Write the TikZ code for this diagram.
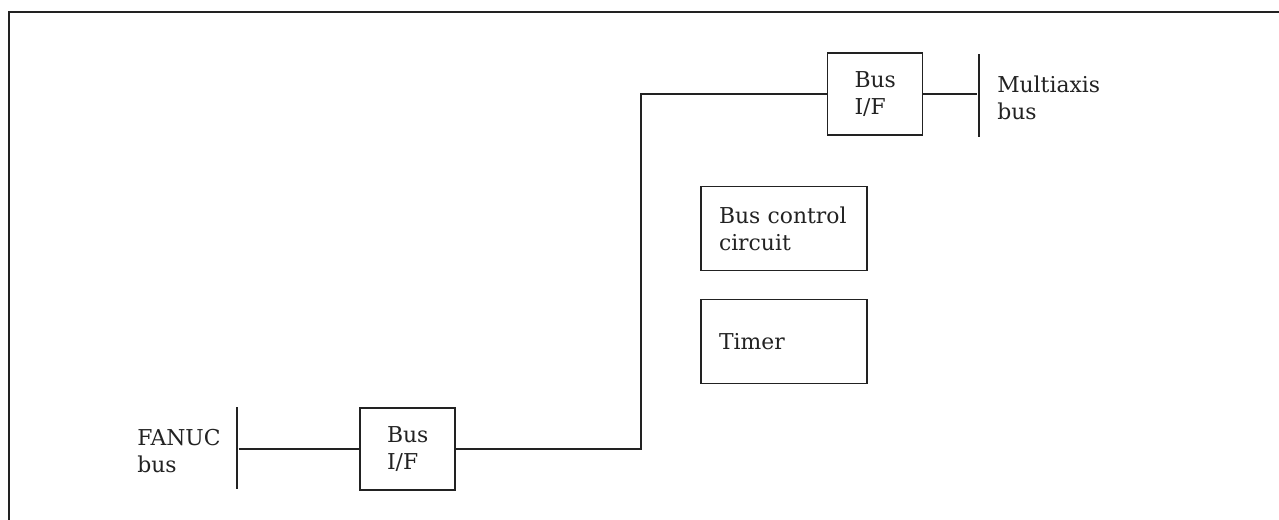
\documentclass[tikz,border=0pt]{standalone}
\usepackage{fontspec}
\setmainfont{DejaVu Serif}
\definecolor{ink}{HTML}{222222}
\tikzset{
  px/.style={x=0.75pt,y=-0.75pt},
  txt/.style={font=\fontsize{16.4}{20.25}\selectfont, text=ink},
  ifbox/.style={draw=ink, line width=0.9pt, txt, align=left, minimum width=71.25pt, minimum height=61.5pt, inner xsep=20.25pt, inner ysep=0pt, text width=30.75pt},
  ctlbox/.style={draw=ink, line width=0.9pt, txt, align=left, minimum height=62.5pt, inner xsep=13.5pt, inner ysep=0pt, text width=97.5pt},
  busbar/.style={fill=ink, draw=none, inner sep=0pt, minimum width=2pt},
  wire/.style={draw=ink, line width=0.9pt},
  lbl/.style={txt, align=left, inner sep=0pt, anchor=base west}
}
\begin{document}
\begin{tikzpicture}[px]
\useasboundingbox (0,0) rectangle (1279,519);
\clip (0,0) rectangle (1279,519);
% frame
\draw[ink, line width=1.6pt] (9,530) -- (9,12) -- (1290,12);
% bus bars
\node[busbar, minimum height=61.5pt] (fb) at (237,448) {};
\node[busbar, minimum height=62pt] (mb) at (979,95.5) {};
% labels (base = last line)
\node[lbl] (fl) at (137,472) {FANUC\\bus};
\node[lbl] (ml) at (997,119) {Multiaxis\\bus};
% boxes
\node[ifbox] (if1) at (407.5,449) {Bus\\I/F};
\node[ifbox] (if2) at (875,94) {Bus\\I/F};
\node[ctlbox] (bcc) at (784,228.5) {Bus control\\circuit};
\node[ctlbox] (tmr) at (784,341.5) {Timer};
% riser
\coordinate (riser) at (641,0);
\draw[wire] (fb.east |- if1.west) -- (if1.west);
\draw[wire] (if1.east) -- (if1.east -| riser) -- (if2.west -| riser) -- (if2.west);
\draw[wire] (if2.east) -- (if2.east -| mb.west);
\end{tikzpicture}
\end{document}
